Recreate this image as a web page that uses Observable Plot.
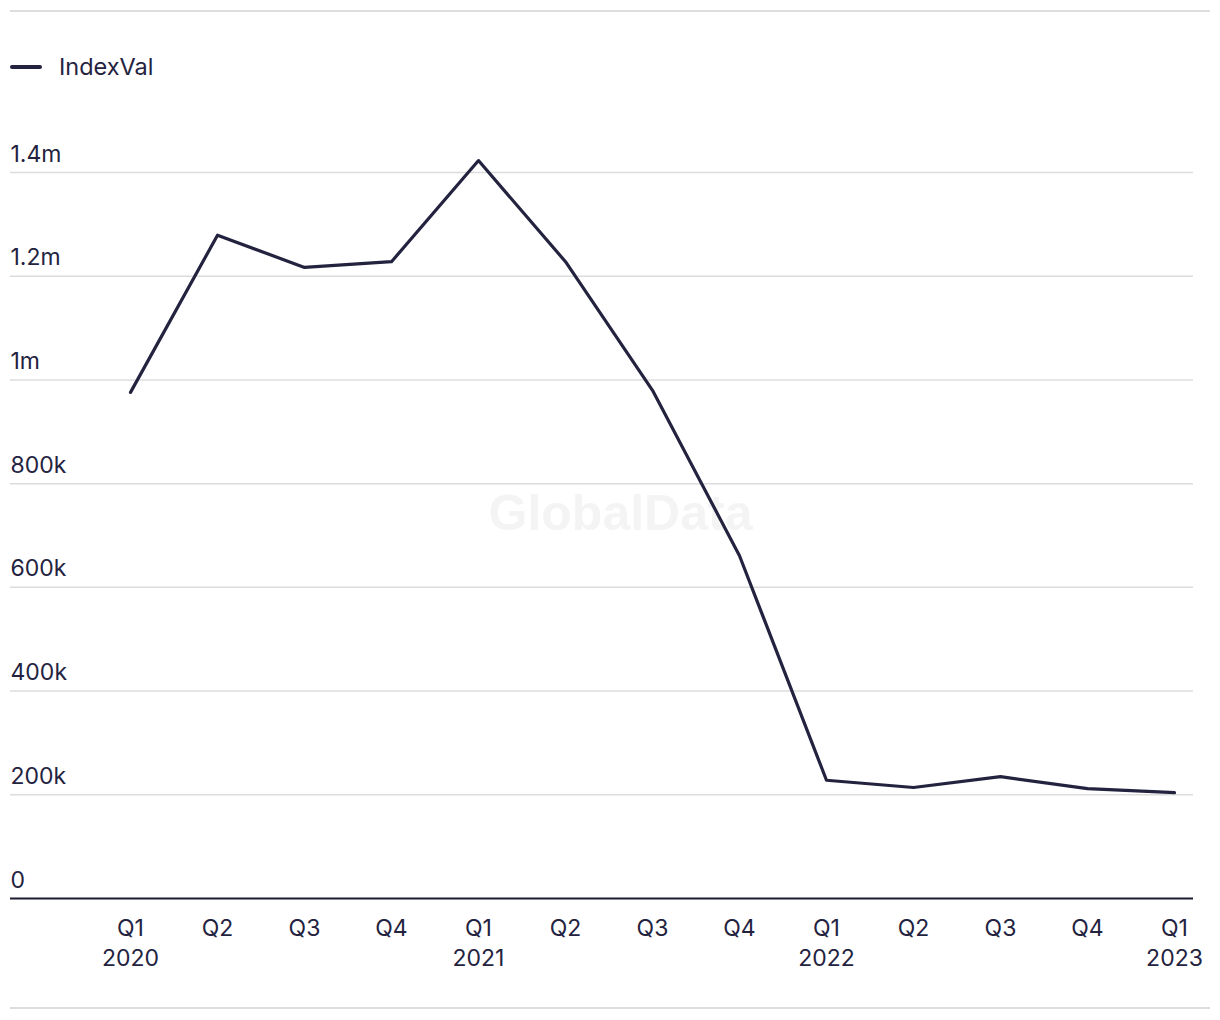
<!DOCTYPE html>
<html>
<head>
<meta charset="utf-8">
<script src="https://cdn.jsdelivr.net/npm/d3@7"></script>
<script src="https://cdn.jsdelivr.net/npm/@observablehq/plot@0.6"></script>
<style>
  html, body { margin: 0; padding: 0; background: #fff; }
  body { font-family: Inter, "Noto Sans", sans-serif; color: #24233f; }
  #wrap { position: relative; width: 1220px; height: 1020px; }
  .hr { position: absolute; left: 10px; width: 1200px; height: 2px; background: #dddddd; }
  #legend { position: absolute; left: 10px; top: 52px; display: flex; align-items: center; font-size: 23.5px; color: #24233f; }
  #legend .sw { width: 32px; height: 4px; border-radius: 2px; background: #24233f; margin-right: 17px; }
  #chart { position: absolute; left: 0; top: 100px; }
</style>
</head>
<body>
<div id="wrap">
  <div class="hr" style="top:10px"></div>
  <div id="legend"><span class="sw"></span><span>IndexVal</span></div>
  <div id="chart"></div>
  <div class="hr" style="top:1007px"></div>
</div>
<script>
const quarters = ["Q1 2020","Q2 2020","Q3 2020","Q4 2020","Q1 2021","Q2 2021","Q3 2021","Q4 2021","Q1 2022","Q2 2022","Q3 2022","Q4 2022","Q1 2023"];
const tickLabels = ["Q1\n2020","Q2","Q3","Q4","Q1\n2021","Q2","Q3","Q4","Q1\n2022","Q2","Q3","Q4","Q1\n2023"];
const indexVal = [976000, 1279000, 1217000, 1228000, 1423000, 1228000, 980000, 661000, 228000, 214000, 235000, 212000, 204000];
const yTicks = [0, 200000, 400000, 600000, 800000, 1000000, 1200000, 1400000];
const seriesName = "IndexVal";

const data = quarters.map((q, i) => ({q, v: indexVal[i], label: tickLabels[i]}));
const fmt = d => d === 0 ? "0" : d >= 1e6 ? (d / 1e6) + "m" : (d / 1e3) + "k";
const ink = "#24233f";

const chart = Plot.plot({
  width: 1220,
  height: 900,
  marginLeft: 10,
  marginRight: 27,
  marginTop: 0,
  marginBottom: 0,
  style: {fontFamily: "Inter, 'Noto Sans', sans-serif", fontSize: "23px", color: ink, background: "#fff"},
  x: {type: "point", domain: quarters, range: [128, 1176], padding: 0, axis: null},
  y: {domain: [0, 1400000], range: [798, 72], axis: null},
  marks: [
    Plot.text(["GlobalData"], {frameAnchor: "top-left", dx: 610, dy: 394, text: d => d, fontSize: 50, fontWeight: "bold", fill: "#f4f4f4", textAnchor: "middle", fontFamily: "Liberation Sans, Arial, sans-serif"}),
    Plot.ruleY(yTicks.filter(d => d > 0), {stroke: "#dcdcdc", strokeWidth: 1.5}),
    Plot.text(yTicks, {y: d => d, text: fmt, frameAnchor: "left", textAnchor: "start", lineAnchor: "bottom", dy: -11, fill: ink, fontSize: 23}),
    Plot.ruleY([0], {stroke: "#1b1b2f", strokeWidth: 2}),
    Plot.line(data, {x: "q", y: "v", stroke: ink, strokeWidth: 3.2, strokeLinejoin: "round"}),
    Plot.text(data, {x: "q", y: () => 0, text: "label", lineAnchor: "top", dy: 16, lineHeight: 1.3, fill: ink, fontSize: 23, textAnchor: "middle"})
  ]
});
document.getElementById("chart").appendChild(chart);
</script>
</body>
</html>
